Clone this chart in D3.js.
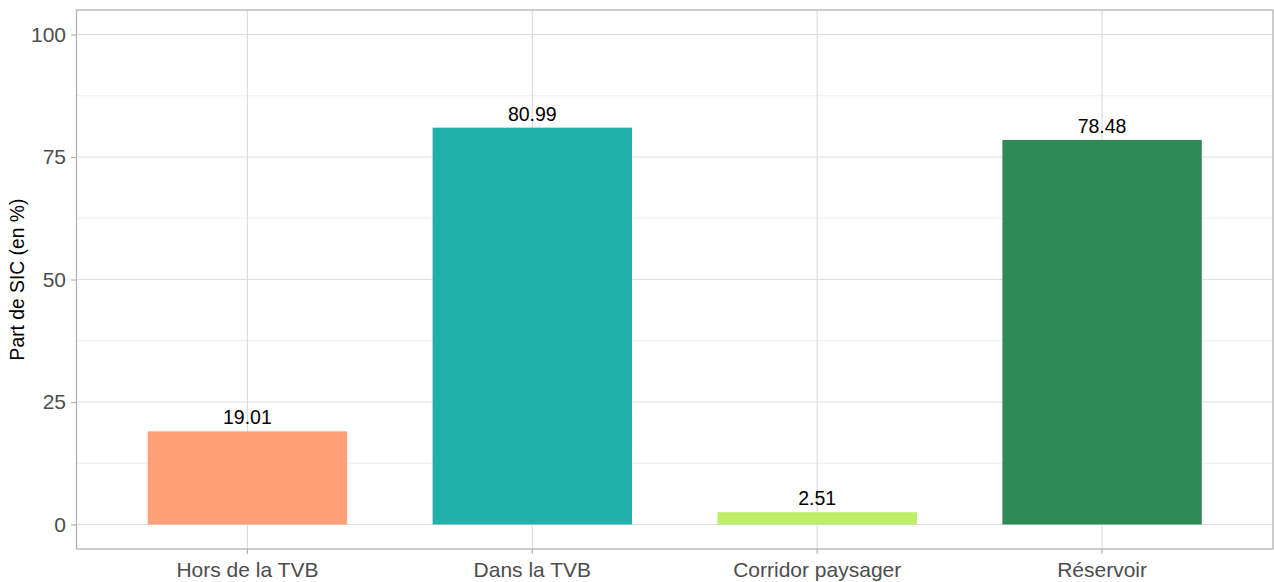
<!DOCTYPE html>
<html><head><meta charset="utf-8">
<script src="https://cdn.jsdelivr.net/npm/d3@7"></script>
<style>body{margin:0;background:#fff;} text{font-family:"Liberation Sans",Arial,sans-serif;}</style>
</head><body>
<svg id="c" width="1274" height="582"></svg>
<script>
const categories = ["Hors de la TVB","Dans la TVB","Corridor paysager","Réservoir"];
const values = [19.01, 80.99, 2.51, 78.48];
const colors = ["#FFA07A","#20B2AA","#BCEE68","#2E8B57"];
const yTicks = [0,25,50,75,100];
const yMinor = [12.5,37.5,62.5,87.5];

const svg = d3.select("#c");
const L=76.5, R=1273, T=10, B=549;
const y = d3.scaleLinear().domain([-5,105]).range([B,T]);
const xc = d3.scaleLinear().domain([0.4,4.6]).range([L,R]);
const bw = 0.7*(xc(2)-xc(1));

const g = svg.append("g");
g.selectAll(".mn").data(yMinor).join("line")
  .attr("x1",L).attr("x2",R).attr("y1",d=>y(d)).attr("y2",d=>y(d))
  .attr("stroke","#EBEBEB").attr("stroke-width",0.8);
g.selectAll(".mj").data(yTicks).join("line")
  .attr("x1",L).attr("x2",R).attr("y1",d=>y(d)).attr("y2",d=>y(d))
  .attr("stroke","#DEDEDE").attr("stroke-width",1.2);
g.selectAll(".vx").data(categories).join("line")
  .attr("x1",(d,i)=>xc(i+1)).attr("x2",(d,i)=>xc(i+1)).attr("y1",T).attr("y2",B)
  .attr("stroke","#DEDEDE").attr("stroke-width",1.2);

g.selectAll(".bar").data(values).join("rect")
  .attr("x",(d,i)=>xc(i+1)-bw/2).attr("width",bw)
  .attr("y",d=>y(d)).attr("height",d=>y(0)-y(d))
  .attr("fill",(d,i)=>colors[i]);

g.selectAll(".lbl").data(values).join("text")
  .attr("x",(d,i)=>xc(i+1)).attr("y",d=>y(d)-7)
  .attr("text-anchor","middle").attr("font-size",19.5).attr("fill","#000")
  .text(d=>d.toFixed(2));

svg.append("rect").attr("x",L).attr("y",T).attr("width",R-L).attr("height",B-T)
  .attr("fill","none").attr("stroke","#B3B3B3").attr("stroke-width",1.3);

const yAxis = d3.axisLeft(y).tickValues(yTicks).tickSize(5.5).tickPadding(5);
const ya = svg.append("g").attr("transform",`translate(${L},0)`).call(yAxis);
ya.select(".domain").remove();
ya.selectAll(".tick line").attr("stroke","#B3B3B3").attr("stroke-width",1.2);
ya.selectAll(".tick text").attr("font-size",21).attr("fill","#4D4D4D").attr("font-family","Liberation Sans, Arial, sans-serif");

const xb = d3.scaleBand().domain(categories).range([xc(0.5),xc(4.5)]).padding(0);
const xAxis = d3.axisBottom(xb).tickSize(5).tickPadding(8);
const xa = svg.append("g").attr("transform",`translate(0,${B})`).call(xAxis);
xa.select(".domain").remove();
xa.selectAll(".tick line").attr("stroke","#B3B3B3").attr("stroke-width",1.2);
xa.selectAll(".tick text").attr("font-size",21).attr("fill","#4D4D4D").attr("font-family","Liberation Sans, Arial, sans-serif");

svg.append("text").attr("transform",`translate(24,${(T+B)/2}) rotate(-90)`)
  .attr("text-anchor","middle").attr("font-size",19.3).attr("fill","#000")
  .text("Part de SIC (en %)");
</script>
</body></html>
